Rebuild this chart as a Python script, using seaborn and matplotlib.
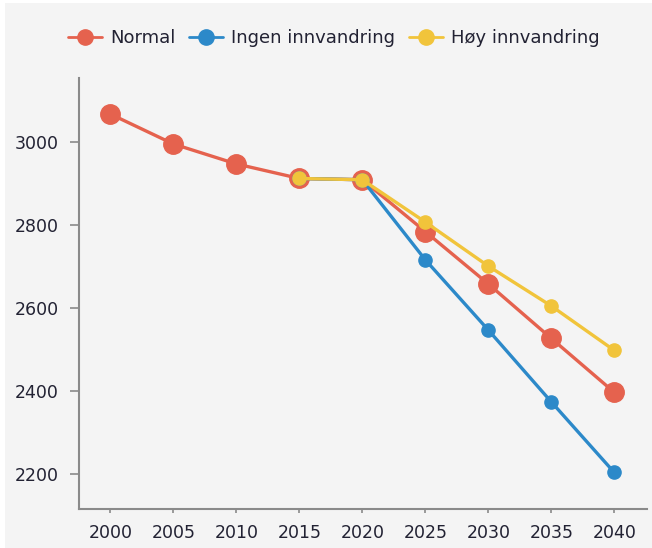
import pandas as pd
import matplotlib.pyplot as plt
import matplotlib.patches as mpatches
from matplotlib.lines import Line2D
import numpy as np
import seaborn as sns

years = [2000, 2005, 2010, 2015, 2020, 2025, 2030, 2035, 2040]
normal = [3067, 2995, 2947, 2912, 2909, 2784, 2658, 2527, 2397]
ingen = [np.nan, np.nan, np.nan, 2912, 2909, 2716, 2547, 2374, 2204]
hoy = [np.nan, np.nan, np.nan, 2912, 2909, 2807, 2701, 2605, 2498]

labels = ["Normal", "Ingen innvandring", "Høy innvandring"]
colors = ["#e5624e", "#2c89c9", "#f1c43b"]

df = pd.DataFrame({"year": years, labels[0]: normal, labels[1]: ingen, labels[2]: hoy})

sns.set_theme(style="white")
plt.rcParams["font.family"] = ["DejaVu Sans"]

fig = plt.figure(figsize=(6.52, 5.48), dpi=100, facecolor="white")
# light grey panel, leaving a thin white strip at the top and left like the source
fig.patches.append(mpatches.Rectangle((5 / 652, -0.1), 1, 1.1 - 3 / 548, transform=fig.transFigure,
                                      facecolor="#f4f4f4", edgecolor="none", zorder=-10))
ax = fig.add_axes([79 / 652, 1 - 509 / 548, (647 - 79) / 652, (509 - 78) / 548])
ax.set_facecolor("#f4f4f4")

sizes = [14, 9.5, 9.5]
for lab, col, ms, z in zip(labels, colors, sizes, [2, 3, 4]):
    sns.lineplot(data=df, x="year", y=lab, ax=ax, color=col, marker="o", markersize=ms,
                 markeredgecolor=col, markeredgewidth=1, linewidth=2.4, zorder=z)

ax.set_xlim(1997.5, 2042.6)
ax.set_ylim(2116, 3154)
ax.set_xticks(years)
ax.set_yticks([2200, 2400, 2600, 2800, 3000])
ax.set_xlabel("")
ax.set_ylabel("")

for s in ["top", "right"]:
    ax.spines[s].set_visible(False)
for s in ["left", "bottom"]:
    ax.spines[s].set_color("#8a8a8a")
    ax.spines[s].set_linewidth(1.5)
ax.tick_params(axis="y", length=6.5, width=1.2, color="#8a8a8a", labelsize=12.5,
               labelcolor="#222233", pad=8, left=True)
ax.tick_params(axis="x", length=3, width=1.2, color="#8a8a8a", labelsize=12.5,
               labelcolor="#222233", pad=8, bottom=True)

handles = [Line2D([0], [0], color=c, marker="o", markersize=11, linewidth=2, markeredgecolor=c)
           for c in colors]
fig.legend(handles, labels, loc="center", bbox_to_anchor=(0.512, 1 - 38 / 548), ncol=3,
           frameon=False, fontsize=13, handlelength=1.9, handletextpad=0.45,
           columnspacing=0.75, labelcolor="#222233")

fig.savefig("out.png", dpi=100, facecolor=fig.get_facecolor())
